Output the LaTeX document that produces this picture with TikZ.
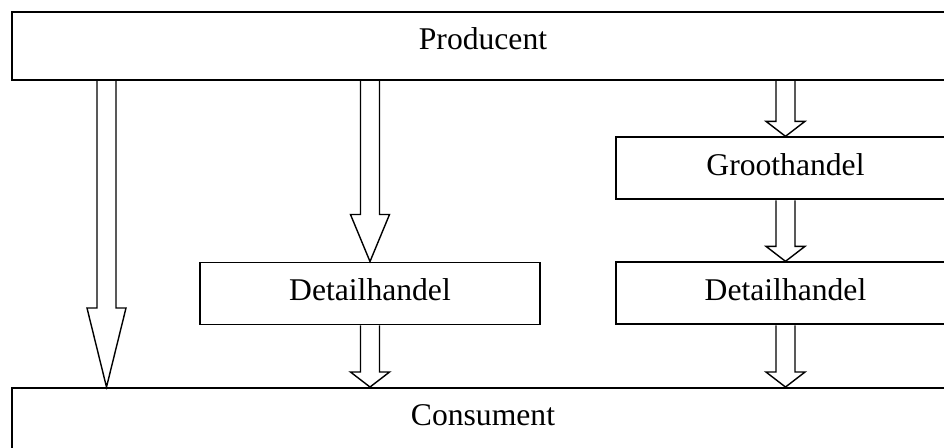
\documentclass[tikz,border=0pt]{standalone}
\usepackage{fontspec}
\setmainfont{Liberation Serif}
\usetikzlibrary{calc}

\tikzset{
  bigbox/.style={draw,rectangle,line width=1.1pt,minimum width=18.84cm,
    minimum height=1.36cm,inner sep=0pt,text height=0.44cm,text depth=0.28cm},
  smallbox/.style={draw,rectangle,line width=1.1pt,minimum width=6.8cm,
    minimum height=1.24cm,inner sep=0pt,text height=0.44cm,text depth=0.17cm},
  % hollow block arrow, #1 = length of the head
  fat/.style={line width=0.8pt,to path={
    ($(\tikztostart)+(-9.5,0)$) -- ($(\tikztotarget)+(-9.5,-#1)$)
    -- ($(\tikztotarget)+(-19.5,-#1)$) -- (\tikztotarget)
    -- ($(\tikztotarget)+(19.5,-#1)$) -- ($(\tikztotarget)+(9.5,-#1)$)
    -- ($(\tikztostart)+(9.5,0)$)}}
}

\begin{document}
\begin{tikzpicture}[x=0.02cm,y=-0.02cm,font=\fontsize{18}{20}\selectfont]
  \clip (0,0) rectangle (944,448);

  \node (prod) at (483,46) [bigbox] {Producent};
  \node (groot) at (785.5,168.3) [smallbox] {Groothandel};
  \node (det1) at (370,293.5) [smallbox] {Detailhandel};
  \node (det2) at (785.5,293.3) [smallbox] {Detailhandel};
  \node (cons) at (483,422) [bigbox] {Consument};
  \coordinate (direct) at (106.5,0); % x of the direct channel

  %% channels
  \draw[fat=79] (prod.south -| direct) to (cons.north -| direct);
  \draw[fat=47] (prod.south -| det1.north) to (det1.north);
  \draw[fat=15] (det1.south) to (cons.north -| det1.south);
  \draw[fat=15] (prod.south -| groot.north) to (groot.north);
  \draw[fat=15] (groot.south) to (det2.north);
  \draw[fat=15] (det2.south) to (cons.north -| det2.south);
\end{tikzpicture}
\end{document}
